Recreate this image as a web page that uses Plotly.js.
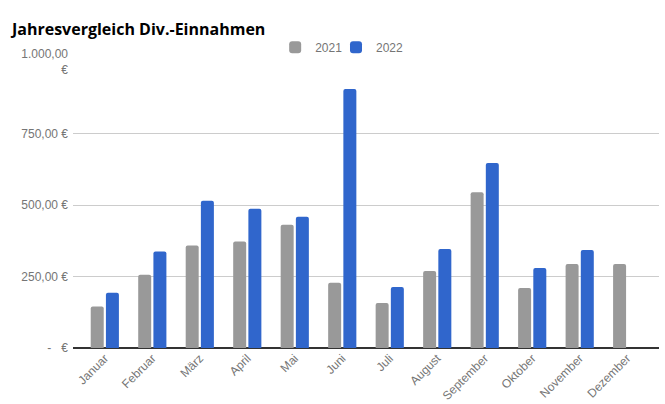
<!DOCTYPE html>
<html>
<head>
<meta charset="utf-8">
<script src="https://cdn.plot.ly/plotly-3.0.1.min.js"></script>
<style>html,body{margin:0;padding:0;background:#fff}#chart{width:665px;height:404px}</style>
</head>
<body>
<div id="chart"></div>
<script>
const months = ["Januar","Februar","März","April","Mai","Juni","Juli","August","September","Oktober","November","Dezember"];
const values2021 = [145, 256, 358, 372, 431, 228, 157, 269, 545, 210, 294, 294];
const values2022 = [193, 337, 515, 487, 459, 906, 213, 346, 647, 280, 343, null];
const yTickVals = [0, 250, 500, 750, 1000];
const yTickText = ["-\u00a0\u00a0\u00a0€", "250,00 €", "500,00 €", "750,00 €", "1.000,00<br>€"];

const traces = [
  {type:"bar", name:"2021", x:months, y:values2021, marker:{color:"#999999"}, hoverinfo:"x+y", legend:"legend"},
  {type:"bar", name:"2022", x:months, y:values2022, marker:{color:"#3066cc"}, hoverinfo:"x+y", legend:"legend2"}
];

const legendStyle = {orientation:"h", y:1.052, xanchor:"left", yanchor:"middle",
                     font:{size:12, color:"#757575"}, bgcolor:"rgba(0,0,0,0)"};

const layout = {
  width:665, height:404,
  margin:{l:73, r:6, t:62, b:56},
  paper_bgcolor:"#fff", plot_bgcolor:"#fff",
  font:{family:"Liberation Sans, Arial, sans-serif", size:12, color:"#757575"},
  title:{text:"<b>Jahresvergleich Div.-Einnahmen</b>", x:0.018, xanchor:"left", y:0.928, yanchor:"middle",
         font:{family:"Open Sans, Arial, sans-serif", size:16, color:"#000"}},
  barmode:"group", bargap:0.36, bargroupgap:0.145, barcornerradius:2,
  showlegend:true,
  legend:Object.assign({x:0.345}, legendStyle),
  legend2:Object.assign({x:0.4488}, legendStyle),
  xaxis:{type:"category", range:[-0.67, 11.67], tickangle:-45, showgrid:false,
         showline:false, zeroline:false, ticks:"", tickfont:{size:12, color:"#757575"}},
  yaxis:{range:[0,1000], tickvals:yTickVals, ticktext:yTickText, showgrid:true,
         gridcolor:"#cccccc", gridwidth:1, zeroline:true, zerolinecolor:"#333333", zerolinewidth:1.5,
         ticks:"", ticklabelstandoff:4, tickfont:{size:12, color:"#757575"}, fixedrange:true}
};
Plotly.newPlot("chart", traces, layout, {displayModeBar:false, staticPlot:true});
</script>
</body>
</html>
